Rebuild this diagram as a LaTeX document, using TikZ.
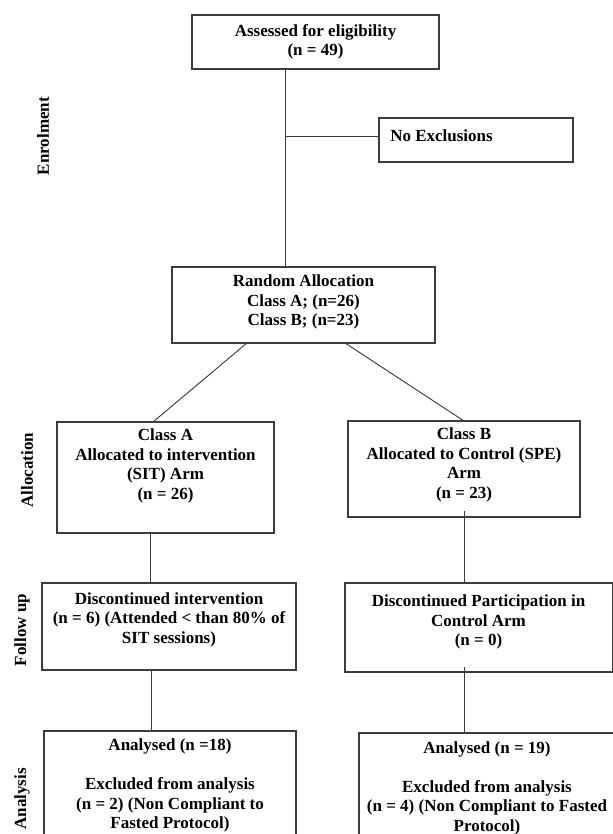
\documentclass[tikz,border=0pt]{standalone}
\usepackage{fontspec}
\setmainfont{Liberation Serif}
\usetikzlibrary{calc}

\begin{document}
\begin{tikzpicture}[x=0.75pt,y=0.75pt,yscale=-1,xscale=1,
  box/.style 2 args={draw={rgb, 255:red, 60; green, 60; blue, 60 }, line width=1pt, inner sep=0pt, outer sep=0pt, minimum width=#1*0.75pt, minimum height=#2*0.75pt},
  txt/.style={font=\fontsize{12.75}{14.6}\selectfont\bfseries, align=center, inner sep=0pt},
  phase/.style={txt, rotate=90},
  link/.style={draw={rgb, 255:red, 60; green, 60; blue, 60 }, line width=0.7pt}]
\useasboundingbox (0,0) rectangle (613,834);
\clip (0,0) rectangle (613,834);

%Boxes
\node [box={247}{54}] (assess) at (315.5,42) {};
\node [box={194}{44}] (noexcl) at (476,140) {};
\node [box={263}{76}] (rand) at (303.5,305) {};
\node [box={217}{111}] (clsA) at (165.5,477.5) {};
\node [box={232}{96}] (clsB) at (464,469) {};
\node [box={254}{87}] (discA) at (169,626.5) {};
\node [box={268}{89}] (discB) at (479,627.5) {};
\node [box={252}{114}] (anaA) at (170,788) {};
\node [box={258}{112}] (anaB) at (488,789) {};

% Text Node
\node [txt] (assessT) at (315.5,42) {Assessed for eligibility\\(n = 49)};
\node [txt, anchor=west] (noexclT) at (390,136) {No Exclusions};
\node [txt] (randT) at (303.5,302) {Random Allocation\\Class A; (n=26)\\Class B; (n=23)};
\node [txt] (clsAT) at (165.5,466) {Class A\\Allocated to intervention\\(SIT) Arm\\(n = 26)};
\node [txt] (clsBT) at (464,465) {Class B\\Allocated to Control (SPE)\\Arm\\(n = 23)};
\node [txt] (discAT) at (169,619.5) {Discontinued intervention\\(n = 6) (Attended < than 80\% of\\SIT sessions)};
\node [txt] (discBT) at (478.5,622) {Discontinued Participation in\\Control Arm\\(n = 0)};
\node [txt] (anaAT) at (170,785.5) {Analysed (n =18)\\[\baselineskip]Excluded from analysis\\(n = 2) (Non Compliant to\\Fasted Protocol)};
\node [txt] (anaBT) at (487,788) {Analysed (n = 19)\\[\baselineskip]Excluded from analysis\\(n = 4) (Non Compliant to Fasted\\Protocol)};

% Phase labels
\node [phase] (enrol) at (43,136) {Enrolment};
\node [phase] (alloc) at (27,470) {Allocation};
\node [phase] (follow) at (22,630) {Follow up};
\node [phase] (anal) at (22,799) {Analysis};

%Straight Lines
\coordinate (trunk) at ($(assess.south west)!0.38!(assess.south east)$);
\coordinate (hook) at ([yshift=-3pt]noexcl.west);
\draw [link] (trunk) -- (trunk |- rand.north);
\draw [link] (trunk |- hook) -- (hook);

\draw [link] ($(rand.south west)!0.285!(rand.south east)$) -- ($(clsA.north west)!0.442!(clsA.north east)$);
\draw [link] ($(rand.south west)!0.658!(rand.south east)$) -- (clsB.north);

\coordinate (leftA) at ($(clsA.south west)!0.433!(clsA.south east)$);
\draw [link] (leftA) -- (leftA |- discA.north);
\coordinate (leftB) at ($(discA.south west)!0.429!(discA.south east)$);
\draw [link] (leftB) -- (leftB |- anaA.north);

\coordinate (rightA) at ([yshift=-4.5pt]clsB.south);
\draw [link] (rightA) -- (rightA |- discB.north);
\coordinate (rightB) at ([yshift=-3.75pt]$(discB.south west)!0.446!(discB.south east)$);
\draw [link] (rightB) -- (rightB |- anaB.north);
\end{tikzpicture}
\end{document}
